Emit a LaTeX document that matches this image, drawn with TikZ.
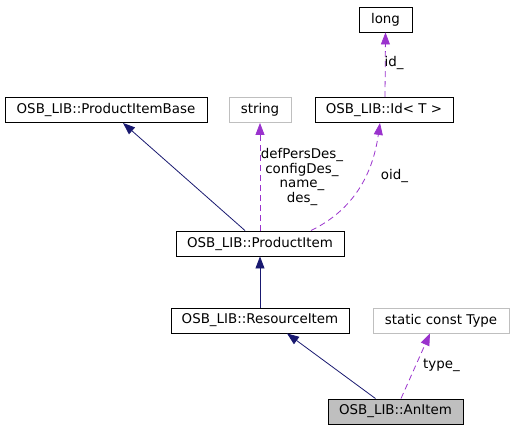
\documentclass[tikz,border=0pt]{standalone}
\usepackage{fontspec}
\setmainfont{DejaVu Sans}
\usepackage{xcolor}
\usetikzlibrary{arrows.meta}

\definecolor{inhblue}{HTML}{191970}
\definecolor{usepurple}{HTML}{9A32CD}
\definecolor{boxgrey}{HTML}{BFBFBF}

\begin{document}
\begin{tikzpicture}[x=1pt, y=1pt,
        font=\fontsize{13.4}{14.4}\selectfont,
        cls/.style={draw=black, line width=0.9pt, inner sep=0pt, minimum height=25pt},
        ext/.style={cls, draw=boxgrey},
        cur/.style={cls, fill=boxgrey},
        inh/.style={draw=inhblue, line width=0.8pt, -{Triangle[length=12pt,width=9pt]}},
        use/.style={draw=usepurple, line width=0.8pt, dashed, dash pattern=on 6pt off 4pt, -{Triangle[length=12pt,width=9pt]}},
        lbl/.style={inner sep=0pt, align=center}]
    \useasboundingbox (0,0) rectangle (512,429);

    %% classes
    \node[cls, minimum width=53pt]  (long) at (385.5,409.5) {long};
    \node[cls, minimum width=202pt] (pib)  at (106,319)     {OSB\_LIB::ProductItemBase};
    \node[ext, minimum width=62pt]  (str)  at (260,319)     {string};
    \node[cls, minimum width=138pt] (id)   at (384,319)     {OSB\_LIB::Id< T >};
    \node[cls, minimum width=168pt] (pi)   at (260,185.5)   {OSB\_LIB::ProductItem};
    \node[cls, minimum width=178pt] (ri)   at (260,108.5)   {OSB\_LIB::ResourceItem};
    \node[ext, minimum width=136pt] (type) at (441,108.5)   {static const Type};
    \node[cur, minimum width=135pt] (ani)  at (395.5,17.5)  {OSB\_LIB::AnItem};

    %% inheritance
    \draw[inh] ([xshift=-15pt]pi.north) -- ([xshift=17pt]pib.south);
    \draw[inh] (ri.north) -- (pi.south);
    \draw[inh] ([xshift=-20pt]ani.north) -- ([xshift=27pt]ri.south);

    %% members
    \draw[use] (pi.north) -- (str.south);
    \node[lbl] (strlbl) at (302,252) {defPersDes\_\\configDes\_\\name\_\\des\_};

    \draw[use] ([xshift=51pt]pi.north) .. controls +(39,19) and +(-8,-56) .. ([xshift=-4pt]id.south);
    \node[lbl] (oidlbl) at (394.5,253) {oid\_};

    \draw[use] ([xshift=1pt]id.north) -- (long.south);
    \node[lbl] (idlbl) at (394,366) {id\_};

    \draw[use] ([xshift=5.5pt]ani.north) -- ([xshift=-11pt]type.south);
    \node[lbl] (typelbl) at (441.5,64) {type\_};

\end{tikzpicture}
\end{document}
